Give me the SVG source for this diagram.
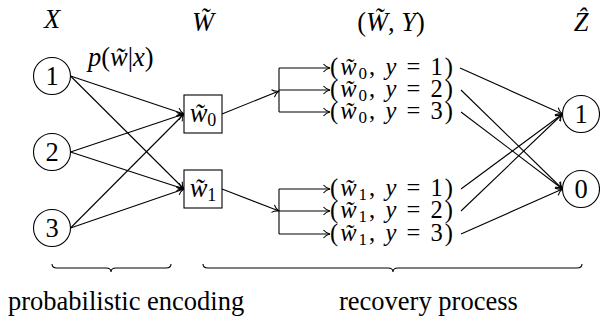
<svg xmlns="http://www.w3.org/2000/svg" width="600" height="325" viewBox="0 0 600 325">
<style>
.node { fill: #fff; stroke: #000; stroke-width: 1.1; }
.ln { fill: none; stroke: #000; stroke-width: 1.1; }
.ar { fill: none; stroke: #000; stroke-width: 1.1; marker-end: url(#tip); }
.i { font-style: italic; }
</style>
<defs>
<marker id="tip" viewBox="-8 -5 9 10" refX="0" refY="0" markerWidth="9" markerHeight="10" markerUnits="userSpaceOnUse" orient="auto">
<path d="M-6.5,-4 C-4.5,-1.5 -2,-0.4 0,0 C-2,0.4 -4.5,1.5 -6.5,4" fill="none" stroke="#000" stroke-width="1.1"/>
</marker>
</defs>
<rect width="600" height="325" fill="#fff"/>

<g id="headers" font-family="Liberation Serif" font-size="26.5">
<text class="i" text-anchor="middle" x="52" y="28">X</text>
<text class="i" text-anchor="middle" x="203" y="31">W̃</text>
<text text-anchor="middle" x="391" y="31">(<tspan class="i">W̃</tspan>, <tspan class="i">Y</tspan>)</text>
<text class="i" text-anchor="middle" x="581" y="31">Ẑ</text>
<text x="88" y="66"><tspan class="i">p</tspan>(<tspan class="i">w̃</tspan>|<tspan class="i">x</tspan>)</text>
</g>

<g id="connectors">
<path class="ln" d="M279,68 V112 M279,189 V234"/>
<path class="ar" d="M70.5,76 L184,114"/>
<path class="ar" d="M70.5,76 L184,189"/>
<path class="ar" d="M70.5,152 L184,114"/>
<path class="ar" d="M70.5,152 L184,189"/>
<path class="ar" d="M70.5,228 L184,114"/>
<path class="ar" d="M70.5,228 L184,189"/>
<path class="ar" d="M222,114 L279,91"/>
<path class="ar" d="M222,189 L279,211"/>
<path class="ar" d="M279,68 H330"/>
<path class="ar" d="M279,90 H330"/>
<path class="ar" d="M279,112 H330"/>
<path class="ar" d="M279,189 H330"/>
<path class="ar" d="M279,211 H330"/>
<path class="ar" d="M279,234 H330"/>
<path class="ar" d="M460,68 L562.5,114"/>
<path class="ar" d="M461,90 L562.5,189"/>
<path class="ar" d="M461,112 L562.5,189"/>
<path class="ar" d="M461,189 L562.5,114"/>
<path class="ar" d="M461,211 L562.5,114"/>
<path class="ar" d="M461,234 L562.5,189"/>
</g>

<g font-family="Liberation Serif" font-size="26.5" text-anchor="middle">
<g id="x1"><circle class="node" cx="52" cy="76" r="18.5"/><text x="52" y="85">1</text></g>
<g id="x2"><circle class="node" cx="52" cy="152" r="18.5"/><text x="52" y="161">2</text></g>
<g id="x3"><circle class="node" cx="52" cy="228" r="18.5"/><text x="52" y="237">3</text></g>
<g id="w0"><rect class="node" x="184" y="95" width="38" height="38"/><text x="203" y="122"><tspan class="i">w̃</tspan><tspan font-size="18" dy="4">0</tspan></text></g>
<g id="w1"><rect class="node" x="184" y="170" width="38" height="38"/><text x="203" y="197"><tspan class="i">w̃</tspan><tspan font-size="18" dy="4">1</tspan></text></g>
<g id="z1"><circle class="node" cx="581" cy="114" r="18.5"/><text x="581" y="123">1</text></g>
<g id="z0"><circle class="node" cx="581" cy="189" r="18.5"/><text x="581" y="198">0</text></g>
</g>

<g font-family="Liberation Serif" font-size="24.5">
<g id="r01"><text x="330" y="75" textLength="123" lengthAdjust="spacing">(<tspan class="i">w̃</tspan><tspan font-size="17" dy="4">0</tspan><tspan dy="-4">, </tspan><tspan class="i">y</tspan> = 1)</text></g>
<g id="r02"><text x="330" y="97" textLength="123" lengthAdjust="spacing">(<tspan class="i">w̃</tspan><tspan font-size="17" dy="4">0</tspan><tspan dy="-4">, </tspan><tspan class="i">y</tspan> = 2)</text></g>
<g id="r03"><text x="330" y="119" textLength="123" lengthAdjust="spacing">(<tspan class="i">w̃</tspan><tspan font-size="17" dy="4">0</tspan><tspan dy="-4">, </tspan><tspan class="i">y</tspan> = 3)</text></g>
<g id="r11"><text x="330" y="196" textLength="123" lengthAdjust="spacing">(<tspan class="i">w̃</tspan><tspan font-size="17" dy="4">1</tspan><tspan dy="-4">, </tspan><tspan class="i">y</tspan> = 1)</text></g>
<g id="r12"><text x="330" y="218" textLength="123" lengthAdjust="spacing">(<tspan class="i">w̃</tspan><tspan font-size="17" dy="4">1</tspan><tspan dy="-4">, </tspan><tspan class="i">y</tspan> = 2)</text></g>
<g id="r13"><text x="330" y="241" textLength="123" lengthAdjust="spacing">(<tspan class="i">w̃</tspan><tspan font-size="17" dy="4">1</tspan><tspan dy="-4">, </tspan><tspan class="i">y</tspan> = 3)</text></g>
</g>

<g id="braces">
<path class="ln" d="M52,264 Q52,268 57,268 L106,268 Q111,268 111,272 Q111,268 116,268 L166,268 Q171,268 171,264"/>
<path class="ln" d="M203,264 Q203,268 208,268 L388,268 Q393,268 393,272 Q393,268 398,268 L577,268 Q582,268 582,264"/>
<text font-family="Liberation Serif" font-size="26.5" x="8" y="310">probabilistic encoding</text>
<text font-family="Liberation Serif" font-size="26.5" x="339" y="310">recovery process</text>
</g>
</svg>
